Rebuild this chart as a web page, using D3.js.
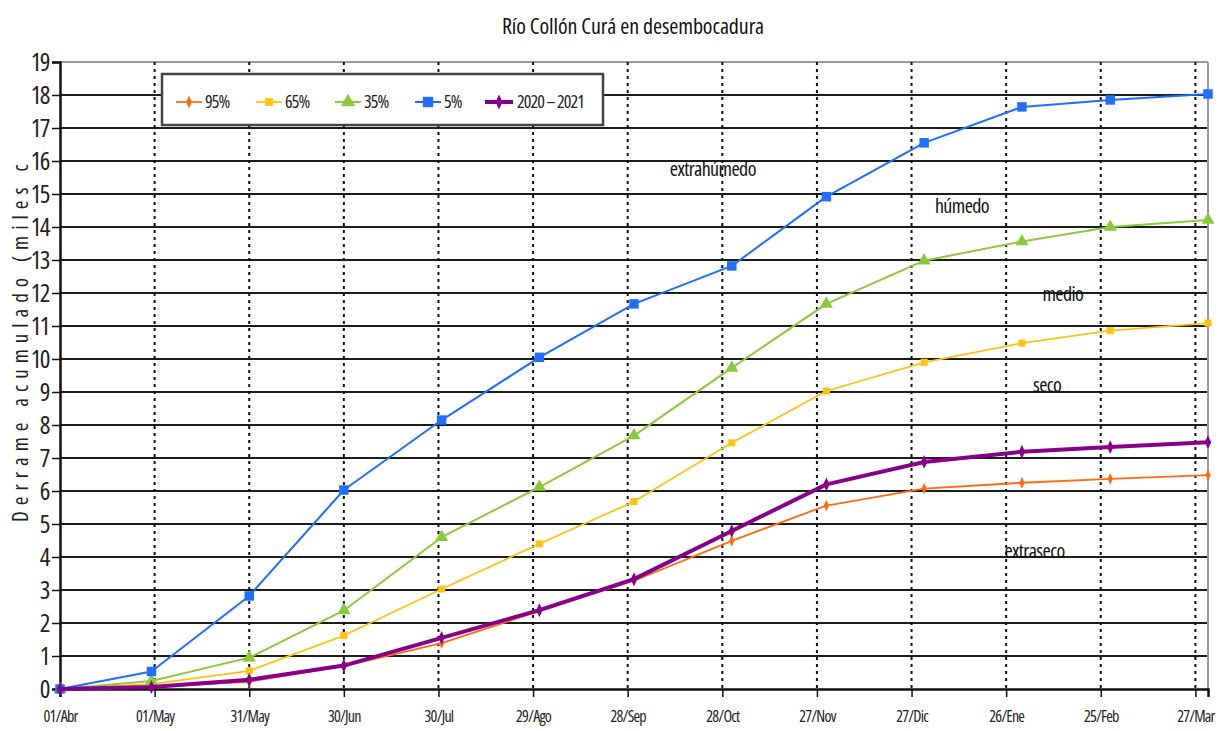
<!DOCTYPE html>
<html>
<head>
<meta charset="utf-8">
<script src="https://cdn.jsdelivr.net/npm/d3@7"></script>
<style>
  body { margin: 0; background: #fff; }
  text { font-family: "Open Sans", sans-serif; font-stretch: condensed; }
</style>
</head>
<body>
<div id="chart"></div>
<script>
const width = 1224;
const height = 731;
const margin = { top: 62, right: 16, bottom: 42, left: 60 };

// data (miles de hm3, acumulado)
const dates = ["2020-04-01", "2020-04-30", "2020-05-31", "2020-06-30", "2020-07-31", "2020-08-31",
    "2020-09-30", "2020-10-31", "2020-11-30", "2020-12-31", "2021-01-31", "2021-02-28", "2021-03-31"];
const p95 = [0, 0.06, 0.22, 0.69, 1.39, 2.36, 3.28, 4.49, 5.56, 6.07, 6.25, 6.37, 6.48];
const p65 = [0, 0.15, 0.55, 1.62, 3.03, 4.4, 5.68, 7.46, 9.03, 9.9, 10.48, 10.86, 11.09];
const p35 = [0, 0.24, 0.95, 2.38, 4.6, 6.12, 7.68, 9.73, 11.67, 12.98, 13.56, 14.0, 14.21];
const p5 = [0, 0.53, 2.82, 6.03, 8.15, 10.05, 11.67, 12.82, 14.92, 16.55, 17.64, 17.85, 18.03];
const y2021 = [0, 0.06, 0.28, 0.71, 1.55, 2.39, 3.33, 4.79, 6.2, 6.88, 7.19, 7.33, 7.48];

const tickDates = ["2020-04-01", "2020-05-01", "2020-05-31", "2020-06-30", "2020-07-30", "2020-08-29",
    "2020-09-28", "2020-10-28", "2020-11-27", "2020-12-27", "2021-01-26", "2021-02-25", "2021-03-27"];
const tickLabels = ["01/Abr", "01/May", "31/May", "30/Jun", "30/Jul", "29/Ago",
    "28/Sep", "28/Oct", "27/Nov", "27/Dic", "26/Ene", "25/Feb", "27/Mar"];
const yTicks = d3.range(0, 20);

const zoneNames = ["extrahúmedo", "húmedo", "medio", "seco", "extraseco"];
const zoneDates = ["2020-10-25", "2021-01-12", "2021-02-13", "2021-02-08", "2021-02-04"];
const zoneValues = [15.55, 14.42, 11.76, 9.0, 3.97];

const parse = d3.timeParse("%Y-%m-%d");

const seriesInfo = [
    { name: "95%", values: p95, color: "#ff6a10", width: 1.8, symbol: d3.symbolDiamond, size: 40, sx: 0.75 },
    { name: "65%", values: p65, color: "#ffc20e", width: 1.8, symbol: d3.symbolSquare, size: 50, sx: 1 },
    { name: "35%", values: p35, color: "#8cc83c", width: 2, symbol: d3.symbolTriangle, size: 75, sx: 1 },
    { name: "5%", values: p5, color: "#1f6eff", width: 2, symbol: d3.symbolSquare, size: 90, sx: 1 },
    { name: "2020 – 2021", values: y2021, color: "#87008a", width: 4, symbol: d3.symbolDiamond, size: 55, sx: 0.8 }
];

const x = d3.scaleTime()
    .domain([parse(dates[0]), parse(dates[dates.length - 1])])
    .range([margin.left, width - margin.right]);

const y = d3.scaleLinear()
    .domain([0, 19])
    .range([height - margin.bottom, margin.top]);

const svg = d3.select("#chart").append("svg")
    .attr("width", width)
    .attr("height", height)
    .attr("viewBox", `0 0 ${width} ${height}`);

// title
svg.append("text")
    .attr("x", 633)
    .attr("y", 34)
    .attr("text-anchor", "middle")
    .style("font-size", "22px")
    .style("letter-spacing", "-0.1px")
    .style("fill", "#111")
    .text("Río Collón Curá en desembocadura");

// horizontal grid
svg.append("g")
    .attr("class", "y-grid")
    .selectAll("line")
    .data(yTicks.slice(1))
    .join("line")
    .attr("x1", margin.left)
    .attr("x2", width - margin.right)
    .attr("y1", d => y(d))
    .attr("y2", d => y(d))
    .attr("stroke", d => d === 19 ? "#999" : "#1c1c1c")
    .attr("stroke-width", 2);

// vertical dashed grid
svg.append("g")
    .attr("class", "x-grid")
    .selectAll("line")
    .data(tickDates.slice(1))
    .join("line")
    .attr("x1", d => x(parse(d)))
    .attr("x2", d => x(parse(d)))
    .attr("y1", margin.top)
    .attr("y2", height - margin.bottom)
    .attr("stroke", "#111")
    .attr("stroke-width", 2)
    .attr("stroke-dasharray", "3,4");

// right frame
svg.append("line")
    .attr("x1", width - margin.right)
    .attr("x2", width - margin.right)
    .attr("y1", margin.top)
    .attr("y2", height - margin.bottom)
    .attr("stroke", "#999")
    .attr("stroke-width", 2);

// x axis
svg.append("g")
    .attr("class", "x-axis")
    .attr("transform", `translate(0, ${height - margin.bottom})`)
    .call(d3.axisBottom(x)
        .tickValues(tickDates.map(parse))
        .tickSize(8)
        .tickPadding(14)
        .tickFormat((d, i) => tickLabels[i]))
    .call(g => g.select(".domain").attr("stroke", "#111").attr("stroke-width", 2.5))
    .call(g => g.selectAll(".tick line").attr("stroke", "#111").attr("stroke-width", 1.5))
    .call(g => g.selectAll(".tick text")
        .style("font-family", "\"Open Sans\", sans-serif")
        .style("font-stretch", "condensed")
        .style("font-size", "16px")
        .style("letter-spacing", "-0.8px")
        .style("fill", "#222"));

// y axis
svg.append("g")
    .attr("class", "y-axis")
    .attr("transform", `translate(${margin.left}, 0)`)
    .call(d3.axisLeft(y)
        .tickValues(yTicks)
        .tickSize(8)
        .tickPadding(3)
        .tickFormat(d3.format("d")))
    .call(g => g.select(".domain").attr("stroke", "#111").attr("stroke-width", 2.5))
    .call(g => g.selectAll(".tick line").attr("stroke", "#111").attr("stroke-width", 1.5))
    .call(g => g.selectAll(".tick text")
        .style("font-family", "\"Open Sans\", sans-serif")
        .style("font-stretch", "condensed")
        .style("font-size", "25px")
        .style("letter-spacing", "-1.5px")
        .style("fill", "#222"));

svg.append("text")
    .attr("transform", "translate(28, 522) rotate(-90)")
    .attr("text-anchor", "start")
    .style("font-size", "21px")
    .style("letter-spacing", "6px")
    .style("fill", "#222")
    .text("Derrame acumulado (miles c");

// zone labels
svg.append("g")
    .attr("class", "zones")
    .selectAll("text")
    .data(zoneNames)
    .join("text")
    .attr("x", (d, i) => x(parse(zoneDates[i])))
    .attr("y", (d, i) => y(zoneValues[i]))
    .attr("text-anchor", "middle")
    .style("font-size", "20px")
    .style("letter-spacing", "-0.6px")
    .style("fill", "#111")
    .text(d => d);

// series
const line = d3.line()
    .x((d, i) => x(parse(dates[i])))
    .y(d => y(d));

const seriesGroups = svg.append("g")
    .attr("class", "series")
    .selectAll("g")
    .data(seriesInfo)
    .join("g");

seriesGroups.append("path")
    .attr("d", d => line(d.values))
    .attr("fill", "none")
    .attr("stroke", d => d.color)
    .attr("stroke-width", d => d.width)
    .attr("stroke-linejoin", "round");

seriesGroups.each(function (s) {
    d3.select(this).selectAll("path.marker")
        .data(s.values)
        .join("path")
        .attr("class", "marker")
        .attr("transform", (d, i) => `translate(${x(parse(dates[i]))}, ${y(d)}) scale(${s.sx}, 1)`)
        .attr("d", d3.symbol().type(s.symbol).size(s.size))
        .attr("fill", s.color);
});

// legend
const legend = svg.append("g")
    .attr("class", "legend")
    .attr("transform", "translate(162, 74)");

legend.append("rect")
    .attr("width", 441)
    .attr("height", 51)
    .attr("fill", "#fff")
    .attr("stroke", "#444")
    .attr("stroke-width", 2.5);

const legendX = [14, 94, 173, 253, 323];

const legendItems = legend.selectAll("g.item")
    .data(seriesInfo)
    .join("g")
    .attr("class", "item")
    .attr("transform", (d, i) => `translate(${legendX[i]}, 28)`);

legendItems.append("line")
    .attr("x1", 0)
    .attr("x2", d => d.width > 3 ? 28 : 26)
    .attr("stroke", d => d.color)
    .attr("stroke-width", d => d.width);

legendItems.append("path")
    .attr("transform", d => `translate(${d.width > 3 ? 14 : 13}, 0) scale(${d.sx}, 1)`)
    .attr("d", d => d3.symbol().type(d.symbol).size(d.size * 1.2)())
    .attr("fill", d => d.color);

legendItems.append("text")
    .attr("x", d => d.width > 3 ? 32 : 29)
    .attr("y", 6)
    .style("font-size", "18px")
    .style("letter-spacing", "-0.9px")
    .style("fill", "#222")
    .text(d => d.name);
</script>
</body>
</html>
